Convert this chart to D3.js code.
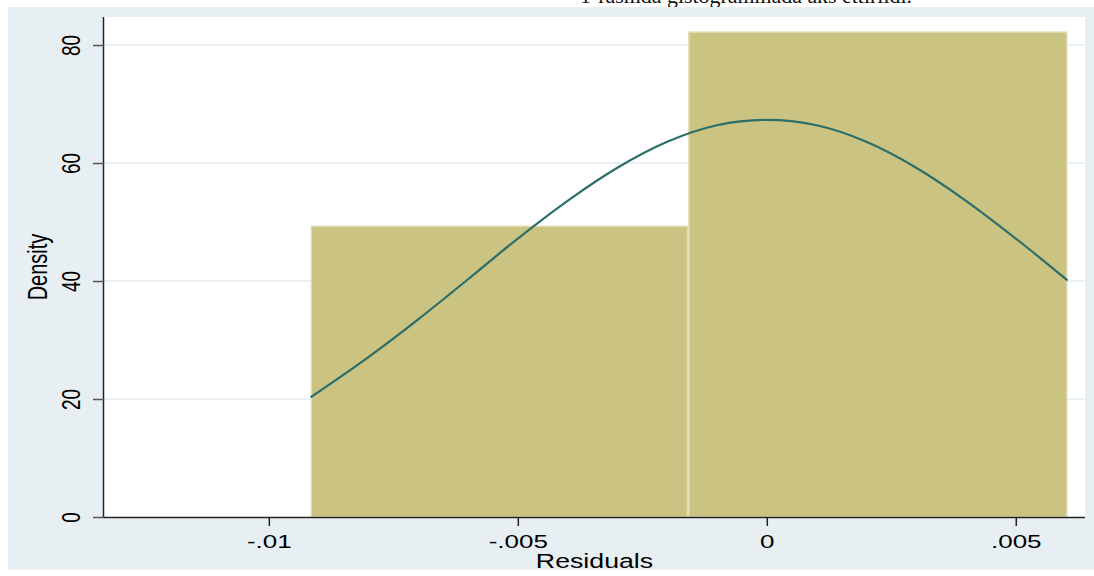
<!DOCTYPE html>
<html><head><meta charset="utf-8">
<script src="https://cdn.jsdelivr.net/npm/d3@7"></script>
<style>
html,body{margin:0;padding:0;background:#fff;}
svg{display:block;}
</style></head>
<body>
<svg id="chart" width="1094" height="576"></svg>
<script>
// ---- data ----
const binEdges = [-0.00916, -0.00158, 0.00604];
const binDensity = [49.4, 82.3];
const curveX = [-0.00916, -0.008, -0.007, -0.006, -0.005, -0.004, -0.003, -0.002, -0.001, 0, 0.001, 0.002, 0.003, 0.004, 0.005, 0.00604];
const curveY = [20.3, 27.1, 33.5, 40.3, 47.2, 53.6, 59.2, 63.6, 66.4, 67.3, 66.4, 63.6, 59.2, 53.6, 47.2, 40.1];
const xTicks = [-0.01, -0.005, 0, 0.005];
const xTickLabels = ["-.01", "-.005", "0", ".005"];
const yTicks = [0, 20, 40, 60, 80];
const yTickLabels = ["0", "20", "40", "60", "80"];
const xTitle = "Residuals";
const yTitle = "Density";
const topText = "1-rasmda gistogrammada aks ettirildi.";

// ---- layout ----
const svg = d3.select("#chart");
const L = 104, R = 1085, T = 17, B = 517;
const SX = 1.37; // horizontal stretch of text in the original
const font = "'Liberation Sans', Arial, sans-serif";

svg.append("text").attr("x", 580).attr("y", 3)
  .attr("font-family", "'Liberation Serif','Times New Roman',serif")
  .attr("font-size", 21).attr("fill", "#111")
  .attr("textLength", 332).attr("lengthAdjust", "spacingAndGlyphs").text(topText);

svg.append("rect").attr("x", 8).attr("y", 7).attr("width", 1086).attr("height", 563)
  .attr("fill", "#e8eff2");
svg.append("rect").attr("x", L).attr("y", T).attr("width", R - L).attr("height", B - T)
  .attr("fill", "#ffffff");

const x = d3.scaleLinear().domain([-0.01331, 0.00639]).range([L, R]);
const y = d3.scaleLinear().domain([0, 84.75]).range([B, T]);

// gridlines
svg.append("g").selectAll("line").data(yTicks.filter(d => d > 0)).join("line")
  .attr("x1", L).attr("x2", R).attr("y1", d => y(d)).attr("y2", d => y(d))
  .attr("stroke", "#e3ecf0").attr("stroke-width", 1.5);

// bars
const bins = binDensity.map((v, i) => ({x0: binEdges[i], x1: binEdges[i + 1], v}));
svg.append("g").selectAll("rect").data(bins).join("rect")
  .attr("x", d => x(d.x0) + 0.75).attr("y", d => y(d.v) + 0.75)
  .attr("width", d => x(d.x1) - x(d.x0) - 1.5).attr("height", d => y(0) - y(d.v) - 0.75)
  .attr("fill", "#cbc381").attr("stroke", "#e0dcad").attr("stroke-width", 1.5);

// normal curve
const pts = curveX.map((v, i) => [v, curveY[i]]);
svg.append("path").datum(pts)
  .attr("d", d3.line().x(d => x(d[0])).y(d => y(d[1])).curve(d3.curveMonotoneX))
  .attr("fill", "none").attr("stroke", "#2b6e6a").attr("stroke-width", 2.2);

// x axis
const gx = svg.append("g").attr("transform", `translate(0,${B})`)
  .call(d3.axisBottom(x).tickValues(xTicks).tickFormat((d, i) => xTickLabels[i]).tickSize(9).tickSizeOuter(0));
gx.select(".domain").attr("d", `M${L},0.5H${R}`).attr("stroke", "#222").attr("stroke-width", 1.5);
gx.selectAll(".tick line").attr("stroke", "#222").attr("stroke-width", 1.5);
gx.selectAll(".tick text").attr("y", null).attr("dy", null)
  .attr("transform", `translate(0,31) scale(${SX},1)`)
  .attr("font-family", font).attr("font-size", 19).attr("fill", "#000");

// y axis
const gy = svg.append("g").attr("transform", `translate(${L},0)`)
  .call(d3.axisLeft(y).tickValues(yTicks).tickFormat((d, i) => yTickLabels[i]).tickSize(11).tickSizeOuter(0));
gy.select(".domain").attr("d", `M-0.5,${T}V${B}`).attr("stroke", "#222").attr("stroke-width", 1.5);
gy.selectAll(".tick line").attr("stroke", "#555").attr("stroke-width", 1.5);
gy.selectAll(".tick text").attr("x", null).attr("dy", null)
  .attr("text-anchor", "middle")
  .attr("transform", `translate(-24,0) scale(${SX},1) rotate(-90)`)
  .attr("font-family", font).attr("font-size", 19).attr("fill", "#000");

// titles
svg.append("text").attr("text-anchor", "middle")
  .attr("transform", `translate(${(L + R) / 2},568) scale(${SX},1)`)
  .attr("font-family", font).attr("font-size", 19.5).attr("fill", "#000").text(xTitle);
svg.append("text").attr("text-anchor", "middle")
  .attr("transform", `translate(47,${(T + B) / 2}) scale(${SX},1) rotate(-90)`)
  .attr("font-family", font).attr("font-size", 20).attr("fill", "#000").text(yTitle);
</script>
</body></html>
